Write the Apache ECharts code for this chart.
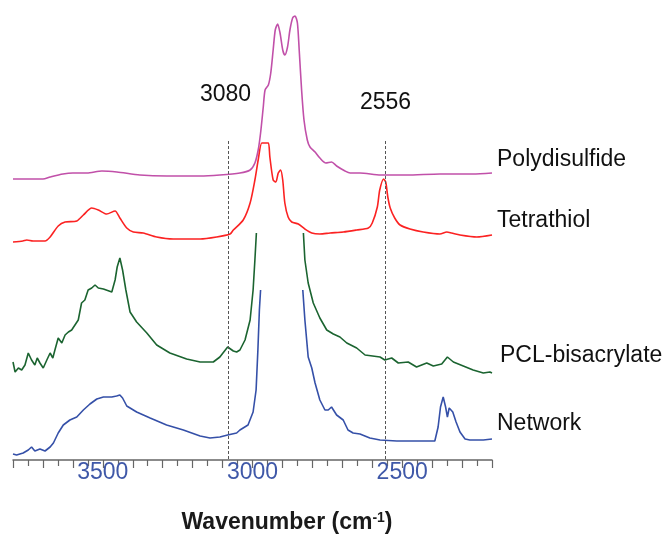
<!DOCTYPE html>
<html>
<head>
<meta charset="utf-8">
<script src="https://cdn.jsdelivr.net/npm/echarts@6/dist/echarts.min.js"></script>
<style>
  html, body { margin: 0; padding: 0; background: #fff; }
  #main { width: 666px; height: 548px; }
</style>
</head>
<body>
<div id="main"></div>
<script>
// wavenumbers (cm-1) and stacked absorbance (a.u., offset per trace)
var polyWn = [3800,3700,3676,3633,3600,3553,3503,3453,3376,3286,3175,3109,3042,3008,2992,2981,2973,2964,2958,2947,2939,2931,2924,2916,2908,2899,2892,2883,2875,2866,2858,2850,2844,2836,2828,2817,2808,2791,2775,2755,2736,2719,2691,2674,2641,2572,2485,2374,2264,2200];
var polyAbs = [2.81,2.81,2.83,2.86,2.87,2.87,2.89,2.88,2.85,2.84,2.84,2.85,2.87,2.90,2.97,3.10,3.27,3.53,3.70,3.75,3.87,4.10,4.30,4.36,4.27,4.10,4.05,4.13,4.30,4.42,4.44,4.37,4.10,3.70,3.40,3.20,3.13,3.08,3.02,2.97,2.98,2.94,2.89,2.87,2.87,2.85,2.85,2.86,2.86,2.87];

var tetraWn = [3800,3767,3754,3733,3693,3676,3649,3626,3587,3565,3537,3515,3487,3459,3443,3420,3398,3365,3320,3265,3175,3120,3075,3064,3031,3008,2992,2981,2969,2958,2947,2942,2931,2922,2914,2906,2899,2892,2881,2869,2847,2825,2802,2775,2741,2697,2652,2613,2600,2583,2575,2562,2555,2548,2540,2525,2507,2474,2430,2374,2351,2335,2307,2251,2200];
var tetraAbs = [2.18,2.19,2.20,2.19,2.19,2.23,2.34,2.38,2.39,2.45,2.52,2.50,2.46,2.49,2.42,2.32,2.28,2.27,2.23,2.21,2.21,2.23,2.26,2.30,2.40,2.57,2.80,3.00,3.17,3.17,3.17,3.03,2.80,2.78,2.87,2.90,2.80,2.57,2.43,2.38,2.36,2.31,2.27,2.26,2.27,2.28,2.30,2.32,2.37,2.53,2.70,2.81,2.78,2.63,2.52,2.42,2.35,2.31,2.28,2.26,2.28,2.27,2.25,2.23,2.25];

// null = trace cut off (off scale) around the C-H band
var pclWn = [3800,3793,3782,3771,3760,3749,3738,3727,3719,3710,3699,3687,3676,3667,3660,3649,3637,3626,3615,3604,3593,3582,3571,3560,3549,3537,3526,3515,3498,3470,3459,3452,3443,3434,3423,3409,3387,3353,3320,3276,3220,3175,3131,3109,3083,3064,3053,3042,3025,3008,2998,2992,2987,2900,2830,2825,2814,2797,2775,2752,2730,2708,2685,2652,2624,2574,2558,2535,2513,2480,2452,2418,2396,2368,2349,2329,2296,2263,2229,2207,2200];
var pclAbs = [0.98,0.88,0.92,0.90,0.95,1.07,1.00,0.95,1.02,0.97,0.92,1.00,1.07,1.02,1.10,1.22,1.17,1.25,1.28,1.30,1.35,1.40,1.57,1.60,1.70,1.72,1.75,1.72,1.71,1.68,1.80,1.93,2.02,1.90,1.70,1.48,1.38,1.27,1.15,1.07,1.01,0.98,0.98,1.03,1.13,1.09,1.08,1.10,1.20,1.40,1.70,2.00,2.27,null,2.27,2.00,1.77,1.57,1.42,1.30,1.26,1.23,1.17,1.12,1.05,1.03,1.00,1.02,0.97,0.98,0.93,0.97,0.94,0.96,1.03,0.98,0.94,0.90,0.87,0.88,0.87];

var netWn = [3800,3788,3766,3749,3738,3727,3710,3693,3676,3665,3649,3632,3610,3587,3565,3543,3520,3498,3470,3454,3443,3434,3420,3387,3342,3287,3231,3175,3142,3109,3083,3053,3042,3015,2998,2988,2982,2977,2973,2900,2832,2825,2814,2802,2791,2775,2758,2747,2736,2719,2697,2681,2664,2641,2608,2574,2518,2452,2391,2380,2372,2363,2355,2349,2343,2331,2320,2307,2290,2274,2229,2200];
var netAbs = [0.06,0.05,0.07,0.10,0.13,0.09,0.11,0.09,0.13,0.17,0.27,0.35,0.40,0.43,0.50,0.56,0.61,0.63,0.63,0.64,0.65,0.62,0.54,0.48,0.42,0.35,0.30,0.24,0.22,0.23,0.25,0.27,0.30,0.35,0.48,0.70,1.10,1.50,1.70,null,1.70,1.40,1.03,0.92,0.77,0.60,0.50,0.50,0.53,0.45,0.40,0.30,0.27,0.26,0.22,0.20,0.19,0.19,0.19,0.33,0.53,0.63,0.53,0.43,0.52,0.48,0.38,0.28,0.21,0.20,0.20,0.21];

var names = ["Polydisulfide", "Tetrathiol", "PCL-bisacrylate", "Network"];
var colors = ["#c150a9", "#fb2222", "#1b6430", "#3550a8"];
var marks = [3080, 2556];
var markTop = 3.19;

function pairs(wn, ab) {
  return wn.map(function (w, i) { return [w, ab[i]]; });
}

var FONT = '"Liberation Sans", Arial, sans-serif';

var chart = echarts.init(document.getElementById("main"));
var option = {
  animation: false,
  grid: { left: 13, right: 174, top: 0, bottom: 88 },
  xAxis: {
    type: "value",
    inverse: true,
    min: 2200,
    max: 3800,
    interval: 100,
    axisLine: { lineStyle: { color: "#666", width: 1.5 } },
    axisTick: { length: 8, lineStyle: { color: "#666", width: 1.2 } },
    minorTick: { show: true, splitNumber: 2, length: 6, lineStyle: { color: "#666", width: 1.2 } },
    splitLine: { show: false },
    axisLabel: {
      margin: 1,
      color: "#3f58a8",
      fontSize: 23,
      fontFamily: FONT,
      formatter: function (v) { return v % 500 === 0 && v !== 3800 && v !== 2200 ? String(v) : ""; }
    }
  },
  yAxis: { type: "value", show: false, min: 0, max: 4.6 },
  series: [
    { name: names[0], type: "line", data: pairs(polyWn, polyAbs), smooth: 0.25 },
    { name: names[1], type: "line", data: pairs(tetraWn, tetraAbs), smooth: 0.25 },
    { name: names[2], type: "line", data: pairs(pclWn, pclAbs) },
    {
      name: names[3], type: "line", data: pairs(netWn, netAbs),
      markLine: {
        silent: true,
        symbol: "none",
        label: { show: false },
        lineStyle: { color: "#555", width: 1, type: [3, 2] },
        data: marks.map(function (m) { return [{ coord: [m, markTop] }, { coord: [m, 0] }]; })
      }
    }
  ].map(function (s, i) {
    s.showSymbol = false;
    s.connectNulls = false;
    s.lineStyle = { color: colors[i], width: 1.6 };
    s.itemStyle = { color: colors[i] };
    return s;
  }),
  graphic: [
    { type: "text", x: 497, y: 160, style: { text: names[0], font: "23px " + FONT, fill: "#111", verticalAlign: "middle" } },
    { type: "text", x: 497, y: 221, style: { text: names[1], font: "23px " + FONT, fill: "#111", verticalAlign: "middle" } },
    { type: "text", x: 500, y: 356, style: { text: names[2], font: "23px " + FONT, fill: "#111", verticalAlign: "middle" } },
    { type: "text", x: 497, y: 424, style: { text: names[3], font: "23px " + FONT, fill: "#111", verticalAlign: "middle" } },
    { type: "text", x: 200, y: 95, style: { text: String(marks[0]), font: "23px " + FONT, fill: "#111", verticalAlign: "middle" } },
    { type: "text", x: 360, y: 103, style: { text: String(marks[1]), font: "23px " + FONT, fill: "#111", verticalAlign: "middle" } },
    {
      type: "text", x: 287, y: 523,
      style: {
        text: "{a|Wavenumber (cm}{s|-1}{a|)}",
        align: "center",
        verticalAlign: "middle",
        rich: {
          a: { font: "bold 23px " + FONT, fill: "#1a1a1a" },
          s: { font: "bold 14px " + FONT, fill: "#1a1a1a", verticalAlign: "top", padding: [0, 0, 7, 0] }
        }
      }
    }
  ]
};
chart.setOption(option);
</script>
</body>
</html>
